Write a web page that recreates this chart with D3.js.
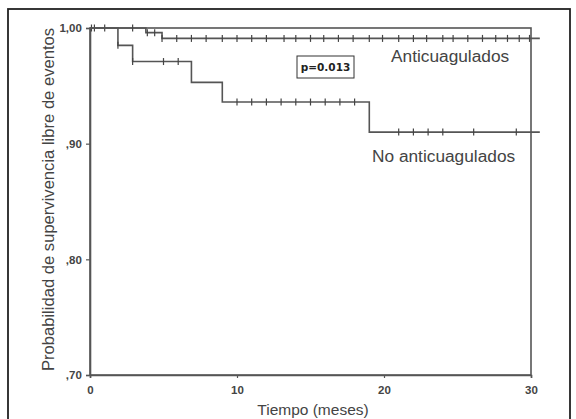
<!DOCTYPE html>
<html>
<head>
<meta charset="utf-8">
<script src="https://cdn.jsdelivr.net/npm/d3@7"></script>
<style>
  body { margin: 0; background: #fff; }
  text { font-family: "Liberation Sans", Arial, sans-serif; }
</style>
</head>
<body>
<div id="container"></div>
<script>
const width = 576;
const height = 419;
const margin = { top: 28, bottom: 44, left: 90, right: 45 };

// Kaplan-Meier steps: [time, survival after the event]
const antiTimes = [3.8, 4.9];
const antiSurv = [0.996, 0.991];
const antiCensor = [0.1, 0.3, 1.0, 2.9, 3.9, 4.4, 4.9, 5.9, 6.9, 7.9, 9.0, 10.0, 11.0, 12.0,
    13.2, 14.0, 15.0, 15.9, 16.9, 17.9, 19.0, 19.9, 21.0, 22.0, 22.9, 24.0, 24.7, 25.7,
    26.7, 27.6, 28.4, 29.2, 29.9];

const noAntiTimes = [1.9, 2.9, 6.9, 9.0, 19.0];
const noAntiSurv = [0.985, 0.971, 0.953, 0.936, 0.910];
const noAntiCensor = [1.9, 2.9, 5.0, 6.0, 10.0, 11.0, 12.0, 13.0, 14.0, 15.0, 16.0, 17.0, 18.0,
    21.0, 22.0, 23.0, 24.0, 26.1, 29.0];

const followEnd = 30.6;

const xTicks = [0, 10, 20, 30];
const yTicks = [0.70, 0.80, 0.90, 1.00];
const yTickLabels = [",70", ",80", ",90", "1,00"];

const svg = d3.select("#container")
    .append('svg')
    .attr('width', width)
    .attr('height', height)
    .attr('viewBox', [0, 0, width, height]);

// outer frame
svg.append('rect')
    .attr('x', 8).attr('y', 9)
    .attr('width', 562).attr('height', 430)
    .attr('fill', 'none')
    .attr('stroke', '#222')
    .attr('stroke-width', 1.8);

const x = d3.scaleLinear()
    .domain([0, 30])
    .range([margin.left, width - margin.right]);

const y = d3.scaleLinear()
    .domain([0.70, 1.00])
    .range([height - margin.bottom, margin.top]);

// plot box
svg.append('rect')
    .attr('x', x(0)).attr('y', y(1))
    .attr('width', x(30) - x(0)).attr('height', y(0.7) - y(1))
    .attr('fill', 'none')
    .attr('stroke', '#555')
    .attr('stroke-width', 1.6);

const xAxis = svg.append('g')
    .attr('transform', `translate(0,${y(0.7)})`)
    .call(d3.axisBottom(x).tickValues(xTicks).tickSize(3).tickFormat(d => d));

const yAxis = svg.append('g')
    .attr('transform', `translate(${x(0)},0)`)
    .call(d3.axisLeft(y).tickValues(yTicks).tickSize(4)
        .tickFormat((d, i) => yTickLabels[i]));

[xAxis, yAxis].forEach(g => {
    g.select('.domain').attr('stroke', '#555').attr('stroke-width', 1.6);
    g.selectAll('.tick line').attr('stroke', '#555').attr('stroke-width', 1.2);
    g.selectAll('.tick text')
        .attr('fill', '#444')
        .attr('font-size', 11.5)
        .attr('font-weight', 'bold')
        .style('font-family', '"Liberation Sans", Arial, sans-serif');
});
xAxis.selectAll('.tick text').attr('dy', '1.1em');
yAxis.selectAll('.tick text').attr('dx', '-0.1em');

function survivalAt(times, surv, t) {
    let s = 1;
    times.forEach((tt, i) => { if (tt <= t) s = surv[i]; });
    return s;
}

function drawCurve(times, surv, censor) {
    const pts = [[0, 1]];
    times.forEach((t, i) => pts.push([t, surv[i]]));
    pts.push([followEnd, surv[surv.length - 1]]);

    svg.append('path')
        .datum(pts)
        .attr('fill', 'none')
        .attr('stroke', '#555')
        .attr('stroke-width', 1.6)
        .attr('d', d3.line()
            .x(d => x(d[0]))
            .y(d => y(d[1]))
            .curve(d3.curveStepAfter));

    svg.append('g')
        .selectAll('line')
        .data(censor)
        .join('line')
        .attr('x1', d => x(d))
        .attr('x2', d => x(d))
        .attr('y1', d => y(survivalAt(times, surv, d)) - 3.5)
        .attr('y2', d => y(survivalAt(times, surv, d)) + 3.5)
        .attr('stroke', '#444')
        .attr('stroke-width', 1.2);
}

drawCurve(antiTimes, antiSurv, antiCensor);
drawCurve(noAntiTimes, noAntiSurv, noAntiCensor);

// labels
svg.append('text')
    .attr('x', 391).attr('y', 62)
    .attr('font-size', 17.3)
    .attr('fill', '#444')
    .text('Anticuagulados');

svg.append('text')
    .attr('x', 372).attr('y', 162)
    .attr('font-size', 17.3)
    .attr('fill', '#444')
    .text('No anticuagulados');

svg.append('rect')
    .attr('x', 297).attr('y', 56)
    .attr('width', 57).attr('height', 22)
    .attr('fill', '#fff')
    .attr('stroke', '#333')
    .attr('stroke-width', 1);

svg.append('text')
    .attr('x', 325.5).attr('y', 71)
    .attr('text-anchor', 'middle')
    .attr('font-size', 10.5)
    .attr('font-weight', 'bold')
    .attr('fill', '#222')
    .style('font-family', '"DejaVu Sans", Verdana, sans-serif')
    .text('p=0.013');

svg.append('text')
    .attr('x', 313)
    .attr('y', 415)
    .attr('text-anchor', 'middle')
    .attr('font-size', 15.5)
    .attr('fill', '#444')
    .text('Tiempo (meses)');

svg.append('text')
    .attr('transform', `translate(54,${(y(0.7) + y(1)) / 2 - 2}) rotate(-90)`)
    .attr('text-anchor', 'middle')
    .attr('font-size', 16.6)
    .attr('fill', '#444')
    .text('Probabilidad de supervivencia libre de eventos');
</script>
</body>
</html>
